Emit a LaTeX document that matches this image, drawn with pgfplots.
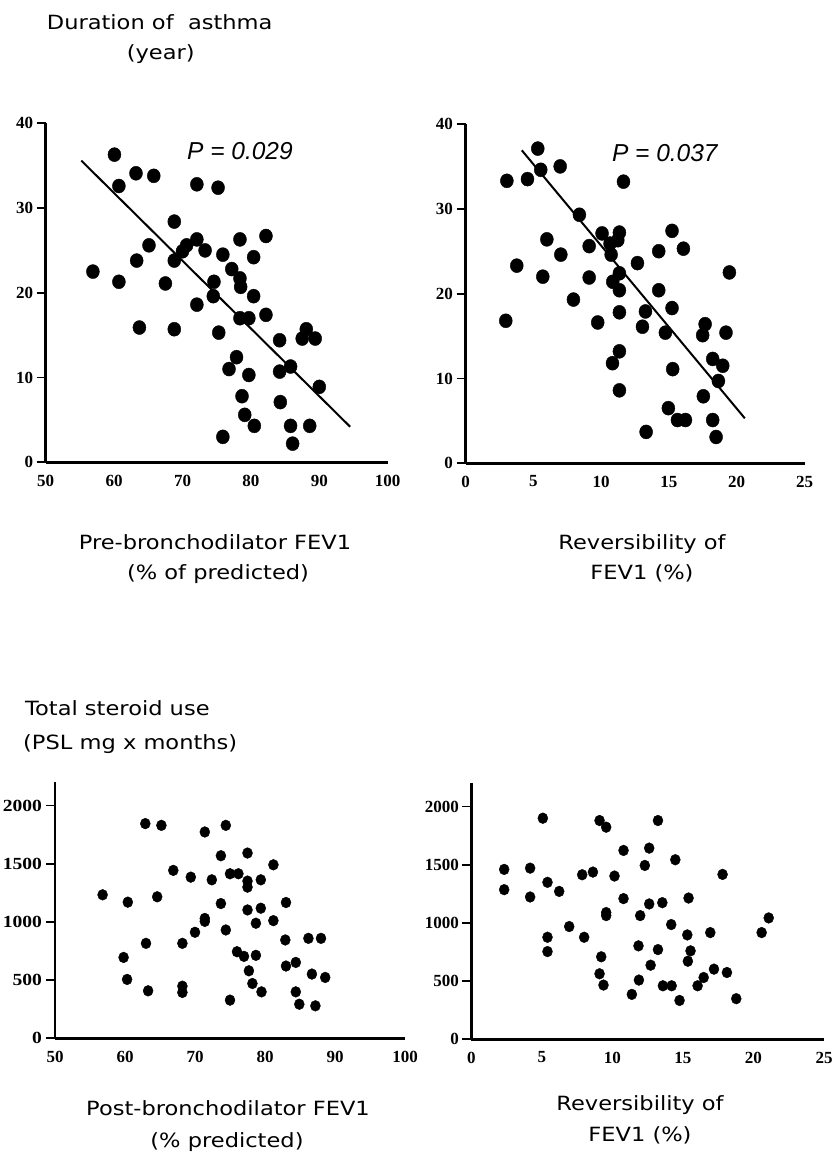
\documentclass[border=0pt]{standalone}
\usepackage{fontspec}
\usepackage{pgfplots}
\pgfplotsset{compat=1.18}
\newfontfamily\labfont{DejaVu Sans}[FakeStretch=1.15]
\newfontfamily\pfont{Liberation Sans}
\newfontfamily\tickfont{Liberation Serif}
\newcommand{\labsize}{\labfont\fontsize{19.6}{22}\selectfont}
\pgfplotsset{
  myax/.style={
    scale only axis,
    axis lines=left,
    axis line style={-, line width=2.5pt, black},
    tick align=outside,
    major tick length=9pt,
    tick style={line width=1.8pt, black},
    x tick style={draw=none},
    ticklabel style={font=\tickfont\bfseries\fontsize{17}{17}\selectfont},
    /pgf/number format/assume math mode=true,
    /pgf/number format/1000 sep={},
    clip=false,
  },
  dots/.style={only marks, mark=*, mark size=#1, mark options={fill=black, draw=black, yscale=1.08}},
}
\begin{document}
\begin{tikzpicture}[x=1pt,y=1pt]
\path[use as bounding box] (0pt,0pt) rectangle (834pt,1155pt);

% ---------- Panel 1 ----------
\begin{axis}[myax, at={(45.7pt,692.7pt)}, anchor=south west, width=342pt, height=339pt,
  xmin=50, xmax=100, ymin=0, ymax=40, xtick={50,60,70,80,90,100}, ytick={0,10,20,30,40}]
\addplot[dots=6.5pt] table {
x y
60.05 36.3
60.7 32.6
63.2 34.1
65.8 33.8
72.1 32.8
75.2 32.4
68.8 28.4
56.9 22.5
60.7 21.3
63.3 23.8
65.1 25.6
68.8 23.8
70.0 24.9
70.6 25.6
72.1 26.3
73.3 25.0
67.5 21.1
63.7 15.9
68.8 15.7
72.1 18.6
74.6 21.3
74.5 19.6
75.3 15.3
75.9 24.5
77.2 22.8
78.4 26.3
78.4 21.7
78.5 20.7
80.4 24.2
82.2 26.7
80.4 19.6
78.4 17.0
79.7 17.0
82.2 17.4
84.2 14.4
87.5 14.6
88.1 15.7
89.4 14.6
77.9 12.4
76.8 11.0
79.7 10.3
84.2 10.7
85.8 11.3
90.0 8.9
78.7 7.8
84.3 7.1
79.1 5.6
80.5 4.3
75.9 3.0
85.8 4.3
86.1 2.2
88.6 4.3
};
\addplot[black, line width=2pt, no marks] coordinates {(55.2,35.6) (94.5,4.2)};
\node[font=\pfont\itshape\fontsize{24.5}{24.5}\selectfont] at (axis cs:78.4,36.7) {P = 0.029};
\end{axis}

% ---------- Panel 2 ----------
\begin{axis}[myax, at={(465.5pt,691.7pt)}, anchor=south west, width=339pt, height=339.3pt,
  xmin=0, xmax=25, ymin=0, ymax=40, xtick={0,5,10,15,20,25}, ytick={0,10,20,30,40}]
\addplot[dots=6.5pt] table {
x y
3.05 33.3
2.97 16.8
3.78 23.3
4.57 33.5
5.33 37.1
5.55 34.6
6.0 26.4
5.7 22.0
6.98 35.0
7.03 24.6
7.96 19.3
8.4 29.3
9.12 25.6
9.12 21.9
9.75 16.6
10.07 27.1
10.66 25.9
10.74 24.6
10.86 21.4
10.84 11.8
11.23 26.3
11.35 27.2
11.35 22.4
11.35 20.4
11.35 17.8
11.35 13.2
11.35 8.6
11.65 33.2
12.68 23.6
13.05 16.1
13.27 17.9
13.32 3.7
14.25 25.0
14.25 20.4
14.74 15.4
15.23 27.4
15.23 18.3
15.28 11.1
14.96 6.5
15.63 5.1
16.22 5.1
16.07 25.3
17.67 16.4
17.49 15.1
17.54 7.9
18.23 12.3
18.23 5.1
18.48 3.1
18.65 9.7
18.97 11.5
19.21 15.4
19.46 22.5
};
\addplot[black, line width=2pt, no marks] coordinates {(4.15,36.9) (20.6,5.3)};
\node[font=\pfont\itshape\fontsize{24.5}{24.5}\selectfont] at (axis cs:14.7,36.6) {P = 0.037};
\end{axis}

% ---------- Panel 3 ----------
\begin{axis}[myax, at={(55pt,116.7pt)}, anchor=south west, width=350pt, height=256pt,
  xmin=50, xmax=100, ymin=0, ymax=2200, xtick={50,60,70,80,90,100}, ytick={0,500,1000,1500,2000},
  yticklabel style={xscale=1.15}]
\addplot[dots=5pt] table {
x y
56.8 1233
60.4 1170
59.8 695
60.3 506
62.9 1845
65.2 1830
64.6 1216
63.0 816
63.3 408
66.9 1443
69.4 1385
68.2 816
68.2 448
68.2 394
70.0 911
71.4 1773
71.4 1030
71.4 1005
72.4 1362
73.7 1569
73.7 1158
74.4 1830
74.4 931
75.0 1414
76.2 1414
75.0 328
76.0 744
77.0 704
77.5 1592
77.5 1351
77.5 1299
77.5 1103
79.4 1362
79.4 1118
78.7 989
78.7 713
77.7 580
78.2 471
79.5 399
81.2 1491
81.2 1011
83.0 1167
82.9 845
83.0 621
84.4 652
84.4 399
84.9 293
86.2 859
88.0 859
86.7 552
88.6 523
87.2 279
};
\end{axis}

% ---------- Panel 4 ----------
\begin{axis}[myax, at={(471.3pt,115.7pt)}, anchor=south west, width=352.7pt, height=256pt,
  xmin=0, xmax=25, ymin=0, ymax=2200, xtick={0,5,10,15,20,25}, ytick={0,500,1000,1500,2000}]
\addplot[dots=5pt] table {
x y
2.33 1460
2.33 1286
4.17 1471
4.17 1223
5.07 1900
5.40 1349
5.40 877
5.40 754
6.23 1271
6.94 969
7.86 1414
8.0 877
8.62 1437
9.09 1880
9.56 1823
9.56 1089
9.56 1063
9.21 709
9.09 563
9.37 466
10.15 1403
10.79 1623
10.79 1209
11.38 386
11.97 1063
11.85 803
11.88 509
12.3 1494
12.61 1643
12.61 1163
12.71 637
13.23 1880
13.23 771
13.54 1174
13.58 460
14.17 986
14.2 460
14.46 1543
14.76 334
15.4 1214
15.31 897
15.54 760
15.35 671
16.04 460
16.47 531
16.94 917
17.2 603
17.81 1417
18.12 574
18.78 349
20.58 917
21.08 1043
};
\end{axis}

% ---------- Texts ----------
\node[font=\labsize, anchor=base west, inner sep=0] at (46.7pt,1125pt) {Duration of\ \ asthma};
\node[font=\labsize, anchor=base, inner sep=0] at (160.7pt,1095.5pt) {(year)};
\node[font=\labsize, anchor=base, inner sep=0] at (215pt,605pt) {Pre-bronchodilator FEV1};
\node[font=\labsize, anchor=base, inner sep=0] at (218pt,575pt) {(\% of predicted)};
\node[font=\labsize, anchor=base, inner sep=0] at (642pt,605pt) {Reversibility of};
\node[font=\labsize, anchor=base, inner sep=0] at (642pt,575pt) {FEV1 (\%)};
\node[font=\labsize, anchor=base west, inner sep=0] at (25pt,439pt) {Total steroid use};
\node[font=\labsize, anchor=base west, inner sep=0] at (23pt,405pt) {(PSL mg x months)};
\node[font=\labsize, anchor=base, inner sep=0] at (228pt,39pt) {Post-bronchodilator FEV1};
\node[font=\labsize, anchor=base, inner sep=0] at (227pt,8pt) {(\% predicted)};
\node[font=\labsize, anchor=base, inner sep=0] at (640pt,44pt) {Reversibility of};
\node[font=\labsize, anchor=base, inner sep=0] at (640pt,13pt) {FEV1 (\%)};
\end{tikzpicture}
\end{document}
